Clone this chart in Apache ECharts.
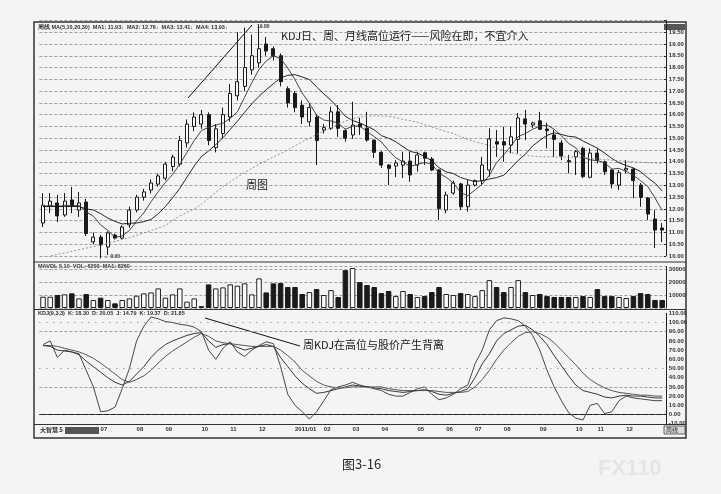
<!DOCTYPE html>
<html><head><meta charset="utf-8">
<script src="https://cdn.jsdelivr.net/npm/echarts@6/dist/echarts.min.js"></script>
<style>html,body{margin:0;padding:0;background:#f4f4f2;}#c{width:721px;height:494px;}</style>
</head><body><div id="c"></div>
<script>
// Weekly OHLC
const openP  = [11.40,12.12,12.25,11.74,12.38,11.95,12.29,10.60,10.80,10.38,10.89,10.76,11.32,11.95,12.50,12.80,13.05,13.30,13.80,13.90,14.80,15.50,15.60,16.00,14.60,15.20,15.90,16.80,17.20,17.90,18.20,19.00,18.80,18.50,17.10,16.90,16.40,15.70,15.90,15.35,15.42,16.12,15.32,15.14,15.60,15.43,14.92,14.40,13.86,13.82,13.86,14.03,13.86,14.38,14.12,13.65,11.95,12.67,13.06,12.09,13.01,13.20,13.65,14.85,14.85,14.71,14.95,15.82,15.56,15.74,15.39,15.14,14.80,14.05,14.21,14.57,13.34,14.37,14.00,13.65,13.01,13.65,13.69,13.01,12.46,11.57,11.19];
const closeP = [12.16,12.33,11.70,12.33,12.12,12.25,10.95,10.80,10.47,10.98,10.76,11.23,11.95,12.50,12.72,13.10,13.40,13.90,14.20,14.90,15.60,15.90,16.00,14.90,15.40,16.00,16.90,17.40,18.00,18.50,18.80,18.70,18.50,17.40,16.50,16.30,15.90,16.30,14.90,15.45,16.12,15.42,15.00,15.56,15.48,14.92,14.40,13.86,13.72,13.95,14.03,13.44,14.29,14.15,13.65,12.02,12.59,13.10,12.09,13.01,13.20,13.86,14.97,14.75,14.71,15.06,15.86,15.60,15.65,15.38,15.32,14.95,14.24,14.00,14.43,13.37,14.37,14.07,13.58,13.06,13.54,13.72,13.20,12.49,11.78,11.10,11.10];
const highP  = [12.67,12.67,12.59,12.67,12.93,12.72,12.42,11.00,10.90,11.05,10.95,11.30,12.10,12.60,12.85,13.25,13.50,14.00,14.30,15.10,15.80,16.10,16.20,16.10,15.60,16.30,17.30,19.50,19.70,19.40,19.80,19.30,18.90,18.60,17.20,17.00,16.60,16.50,16.00,15.60,16.34,16.41,15.40,16.55,15.86,16.12,14.95,14.45,13.90,14.07,14.43,14.43,14.43,14.43,14.20,13.70,12.73,13.20,13.11,13.23,13.25,14.21,15.42,15.35,15.49,15.49,16.07,16.20,15.70,16.12,15.66,15.35,14.92,14.29,14.50,14.64,14.57,14.57,14.05,13.70,13.65,14.07,13.74,13.10,12.50,11.95,11.40];
const lowP   = [11.23,11.82,11.44,11.66,11.82,11.66,10.85,10.50,9.90,10.04,10.70,10.70,11.20,11.85,12.35,12.65,12.95,13.20,13.60,13.80,14.60,15.30,15.40,14.70,14.40,15.00,15.70,16.60,17.00,17.70,18.00,18.50,18.30,17.20,16.30,16.10,15.60,15.50,13.86,15.20,15.35,15.06,14.85,14.97,15.14,14.85,14.16,13.74,13.01,13.35,13.31,13.15,13.58,13.86,13.60,11.53,11.81,12.60,11.95,11.88,12.95,13.01,13.37,14.21,14.00,14.36,14.36,14.92,15.42,15.35,14.57,14.21,14.07,13.51,13.44,13.30,13.30,13.93,13.44,12.87,12.80,13.51,12.45,12.09,11.53,10.34,10.59];
const volume = [8700,8700,10000,10500,11300,7400,10800,6150,7950,6150,3600,6150,7400,9500,11300,12000,15100,7950,10500,15100,4900,7400,1500,18200,15100,15900,18200,17200,19000,10500,22800,12000,19000,19200,16200,16200,10800,12300,14600,10000,13800,8500,29200,30800,20000,17700,16200,11500,13100,9200,13100,10800,8500,9200,12300,16200,10800,10000,11500,10800,9200,13800,21500,16200,12300,16200,21500,12300,10000,10800,9200,8500,8500,8500,8500,9200,8500,14600,9200,9200,8500,7700,9200,11500,10800,6200,6200];
// Moving averages of the close
const ma5  = [12.10,12.15,12.10,12.15,12.13,12.15,11.87,11.69,11.32,11.09,10.79,10.85,11.08,11.48,11.83,12.30,12.73,13.12,13.46,13.90,14.40,14.90,15.32,15.46,15.56,15.64,15.84,16.12,16.74,17.36,17.92,18.28,18.50,18.38,17.98,17.48,16.92,16.48,15.98,15.77,15.73,15.64,15.38,15.51,15.52,15.28,15.07,14.84,14.48,14.17,13.99,13.80,13.89,13.97,13.91,13.51,13.34,13.10,12.69,12.56,12.80,13.05,13.43,13.96,14.30,14.67,15.07,15.20,15.38,15.51,15.56,15.38,15.11,14.78,14.59,14.20,14.08,14.05,13.96,13.69,13.72,13.59,13.42,13.20,12.95,12.46,11.93];
const ma10 = [12.10,12.10,12.10,12.10,12.10,12.10,12.00,11.95,11.80,11.61,11.47,11.36,11.39,11.40,11.46,11.55,11.79,12.10,12.47,12.87,13.35,13.82,14.22,14.46,14.73,15.02,15.37,15.72,16.10,16.46,16.78,17.06,17.31,17.56,17.67,17.70,17.60,17.49,17.18,16.88,16.61,16.28,15.93,15.75,15.65,15.51,15.36,15.11,15.00,14.85,14.64,14.44,14.37,14.23,14.04,13.75,13.57,13.50,13.33,13.24,13.16,13.20,13.27,13.33,13.43,13.74,14.06,14.32,14.67,14.91,15.12,15.23,15.16,15.08,15.05,14.88,14.73,14.58,14.37,14.14,13.96,13.84,13.74,13.58,13.32,13.09,12.76];
const ma30 = [9.93,10.00,10.07,10.13,10.20,10.27,10.33,10.40,10.47,10.55,10.62,10.70,10.78,10.88,10.98,11.08,11.18,11.30,11.50,11.70,11.85,12.00,12.20,12.45,12.70,12.95,13.15,13.35,13.55,13.72,13.90,14.05,14.20,14.35,14.50,14.68,14.85,15.00,15.15,15.30,15.45,15.60,15.72,15.83,15.90,15.93,15.95,15.95,15.93,15.88,15.80,15.74,15.68,15.58,15.48,15.38,15.28,15.20,15.07,14.95,14.85,14.77,14.68,14.58,14.48,14.40,14.32,14.27,14.24,14.22,14.21,14.20,14.20,14.20,14.20,14.18,14.15,14.12,14.10,14.07,14.04,14.02,14.00,13.98,13.96,13.95,13.93];
// KDJ
const kLine = [75,74,70,69,68,65,58,52,46,40,35,32,36,44,52,62,70,76,80,83,86,88,89,80,73,76,77,73,70,72,74,76,74,62,52,42,34,28,23,24,26,28,30,32,31,30,29,28,26,25,24,25,26,27,25,22,21,23,25,28,40,55,66,80,88,92,96,97,92,85,76,64,53,42,32,26,24,22,19,18,20,21,20,20,19,18,18];
const dLine = [75,75,74,72,70,68,65,61,56,50,44,38,35,38,42,48,56,63,69,74,79,84,88,85,80,78,77,76,75,74,74,74,74,70,64,57,48,42,36,32,30,29,29,30,30,30,30,30,28,27,26,26,26,26,26,25,24,24,24,25,30,38,48,60,70,78,85,89,90,88,84,78,70,62,54,45,38,33,29,26,24,23,22,21,21,20,20];
const jLine = [76,80,62,70,68,66,48,30,3,4,8,28,50,80,96,106,104,101,100,98,97,95,90,70,60,72,79,68,63,70,75,79,77,52,22,10,3,-5,3,15,27,30,32,35,32,30,28,26,22,20,20,24,28,30,22,16,18,22,28,32,55,70,92,102,105,104,102,96,86,70,48,30,15,2,-4,-6,10,12,1,3,15,20,18,17,16,15,15];
// Month tick labels and the week each month starts on
const monthLabels = ['07','08','09','10','11','12','2011/01','02','03','04','05','06','07','08','09','10','11','12'];
const monthStart  = [8,13,17,22,26,30,35,39,43,47,52,56,60,64,69,74,77,81];

const cats = closeP.map((_, i) => i);
const candleData = cats.map(i => [openP[i], closeP[i], lowP[i], highP[i]]);
const volData = cats.map(i => ({
  value: volume[i],
  itemStyle: closeP[i] >= openP[i]
    ? { color: '#fbfbf9', borderColor: '#222', borderWidth: 1 }
    : { color: '#1a1a1a', borderColor: '#1a1a1a', borderWidth: 1 }
}));

const INK = '#222';
const FONT = 'Liberation Sans';
const tiny = { fontSize: 6, fontWeight: 'bold', color: '#333', fontFamily: FONT };
const small = { fontSize: 5.5, fontWeight: 'bold', fill: '#333', fontFamily: FONT };

const grids = [
  { left: 39.4, right: 55.2, top: 20.44, height: 235.56 },
  { left: 39.4, right: 55.2, top: 266.5, height: 41.5 },
  { left: 39.4, right: 55.2, top: 313.3, height: 110.4 }
];
const xAx = g => ({
  type: 'category', gridIndex: g, data: cats, boundaryGap: true,
  axisLine: { show: g === 2, lineStyle: { color: INK } }, axisTick: { show: false },
  axisLabel: g === 2 ? {
    show: true, interval: 0, margin: 3, align: 'left', ...tiny,
    formatter: v => { const k = monthStart.indexOf(+v); return k >= 0 ? monthLabels[k] : ''; }
  } : { show: false },
  splitLine: { show: false }
});

const chart = echarts.init(document.getElementById('c'), null, { renderer: 'canvas' });
chart.setOption({
  backgroundColor: '#f4f4f2',
  animation: false,
  grid: grids,
  xAxis: [xAx(0), xAx(1), xAx(2)],
  yAxis: [
    { type: 'value', gridIndex: 0, position: 'right', min: 10, max: 20, interval: 0.5,
      axisLine: { show: true, lineStyle: { color: INK } },
      axisTick: { show: true, inside: true, length: 2, lineStyle: { color: INK } },
      axisLabel: { ...tiny, margin: 3, formatter: v => v > 19.6 ? '' : v.toFixed(2) },
      splitLine: { show: true, lineStyle: { color: '#8a8a8a', type: [3, 2], width: 0.8 } } },
    { type: 'value', gridIndex: 1, position: 'right', min: 0, max: 32000, interval: 10000,
      axisLine: { show: true, lineStyle: { color: INK } }, axisTick: { show: false },
      axisLabel: { ...tiny, margin: 3, formatter: v => (v > 0 && v <= 30000) ? String(v) : '' },
      splitLine: { show: true, lineStyle: { color: '#8a8a8a', type: [3, 2], width: 0.8 } } },
    { type: 'value', gridIndex: 2, position: 'right', min: -10, max: 110, interval: 10,
      axisLine: { show: true, lineStyle: { color: INK } }, axisTick: { show: false },
      axisLabel: { ...tiny, margin: 3, formatter: v => v.toFixed(2) },
      splitLine: { show: false } }
  ],
  series: [
    { type: 'candlestick', xAxisIndex: 0, yAxisIndex: 0, data: candleData, barMaxWidth: 5.5,
      itemStyle: { color: '#fbfbf9', color0: '#1a1a1a', borderColor: '#1a1a1a', borderColor0: '#1a1a1a', borderWidth: 1 } },
    { type: 'line', xAxisIndex: 0, yAxisIndex: 0, data: ma5, symbol: 'none', lineStyle: { color: '#333', width: 0.9 } },
    { type: 'line', xAxisIndex: 0, yAxisIndex: 0, data: ma10, symbol: 'none', lineStyle: { color: '#111', width: 0.9 } },
    { type: 'line', xAxisIndex: 0, yAxisIndex: 0, data: ma30, symbol: 'none', lineStyle: { color: '#888', width: 0.9, type: [2, 2] } },
    { type: 'bar', xAxisIndex: 1, yAxisIndex: 1, data: volData, barWidth: 5.5 },
    { type: 'line', xAxisIndex: 2, yAxisIndex: 2, data: kLine, symbol: 'none', lineStyle: { color: '#222', width: 0.9 },
      markLine: { symbol: 'none', silent: true, label: { show: false },
        data: [
          { yAxis: 100, lineStyle: { color: '#777', type: [1, 6], width: 1 } },
          { yAxis: 90, lineStyle: { color: '#888', type: [3, 2], width: 0.8 } },
          { yAxis: 50, lineStyle: { color: '#777', type: [1, 6], width: 1 } },
          { yAxis: 30, lineStyle: { color: '#888', type: [3, 2], width: 0.8 } },
          { yAxis: 0, lineStyle: { color: '#777', type: [1, 6], width: 1 } }
        ] } },
    { type: 'line', xAxisIndex: 2, yAxisIndex: 2, data: dLine, symbol: 'none', lineStyle: { color: '#444', width: 0.9 } },
    { type: 'line', xAxisIndex: 2, yAxisIndex: 2, data: jLine, symbol: 'none', lineStyle: { color: '#333', width: 0.9 } }
  ],
  graphic: [
    { type: 'rect', shape: { x: 34, y: 22, width: 652, height: 416 }, style: { fill: 'none', stroke: '#333', lineWidth: 1.5 }, silent: true },
    { type: 'line', shape: { x1: 34, y1: 262, x2: 686, y2: 262 }, style: { stroke: '#333', lineWidth: 1 } },
    { type: 'line', shape: { x1: 34, y1: 309.5, x2: 686, y2: 309.5 }, style: { stroke: '#333', lineWidth: 1 } },
    { type: 'line', shape: { x1: 34, y1: 424.5, x2: 686, y2: 424.5 }, style: { stroke: '#333', lineWidth: 1 } },
    { type: 'text', left: 38, top: 24, style: { text: '周线 MA(5,10,20,30)  MA1: 11.93↓  MA2: 12.76↓  MA3: 13.41↓  MA4: 13.93↓', ...small } },
    { type: 'text', left: 38, top: 263.5, style: { text: 'MAVOL 5,10  VOL: 6200  MA1: 8260', ...small } },
    { type: 'text', left: 38, top: 310.5, style: { text: 'KDJ(9,3,3)  K: 18.30  D: 20.05  J: 14.79  K: 19.37  D: 21.85', ...small } },
    { type: 'text', left: 40, top: 427, style: { text: '大智慧 5', fontSize: 6, fontWeight: 'bold', fill: '#333', fontFamily: 'Noto Sans CJK SC' } },
    { type: 'rect', shape: { x: 65, y: 427, width: 34, height: 7 }, style: { fill: '#555' } },
    { type: 'rect', shape: { x: 664, y: 426, width: 21, height: 8 }, style: { fill: '#ddd', stroke: '#444', lineWidth: 0.8 } },
    { type: 'text', left: 666, top: 427, style: { text: '周线', fontSize: 6, fill: '#222', fontFamily: 'Noto Sans CJK SC' } },
    { type: 'rect', shape: { x: 664, y: 24, width: 21, height: 6 }, style: { fill: '#555' } },
    { type: 'text', left: 104, top: 254, style: { text: '← 9.90', fontSize: 5, fontWeight: 'bold', fill: '#333', fontFamily: FONT } },
    { type: 'text', left: 257, top: 24, style: { text: '19.80', fontSize: 5, fontWeight: 'bold', fill: '#333', fontFamily: FONT } },
    { type: 'line', shape: { x1: 188, y1: 98, x2: 252, y2: 25 }, style: { stroke: '#111', lineWidth: 1 } },
    { type: 'text', left: 281, top: 30, style: { text: 'KDJ日、周、月线高位运行——风险在即，不宜介入', fontSize: 11, fill: '#1a1a1a', fontFamily: 'Noto Sans CJK SC' } },
    { type: 'text', left: 246, top: 179, style: { text: '周图', fontSize: 11, fill: '#1a1a1a', fontFamily: 'Noto Sans CJK SC' } },
    { type: 'line', shape: { x1: 205, y1: 318, x2: 300, y2: 346 }, style: { stroke: '#111', lineWidth: 1 } },
    { type: 'text', left: 303, top: 339, style: { text: '周KDJ在高位与股价产生背离', fontSize: 11, fill: '#1a1a1a', fontFamily: 'Noto Sans CJK SC' } },
    { type: 'text', left: 342, top: 458, style: { text: '图3-16', fontSize: 13, fill: '#2a2a2a', fontFamily: 'Noto Sans CJK SC' } },
    { type: 'text', left: 598, top: 458, style: { text: 'FX110', fontSize: 22, fontWeight: 'bold', fill: 'rgba(200,200,200,0.35)', fontFamily: FONT } }
  ]
});
</script></body></html>
